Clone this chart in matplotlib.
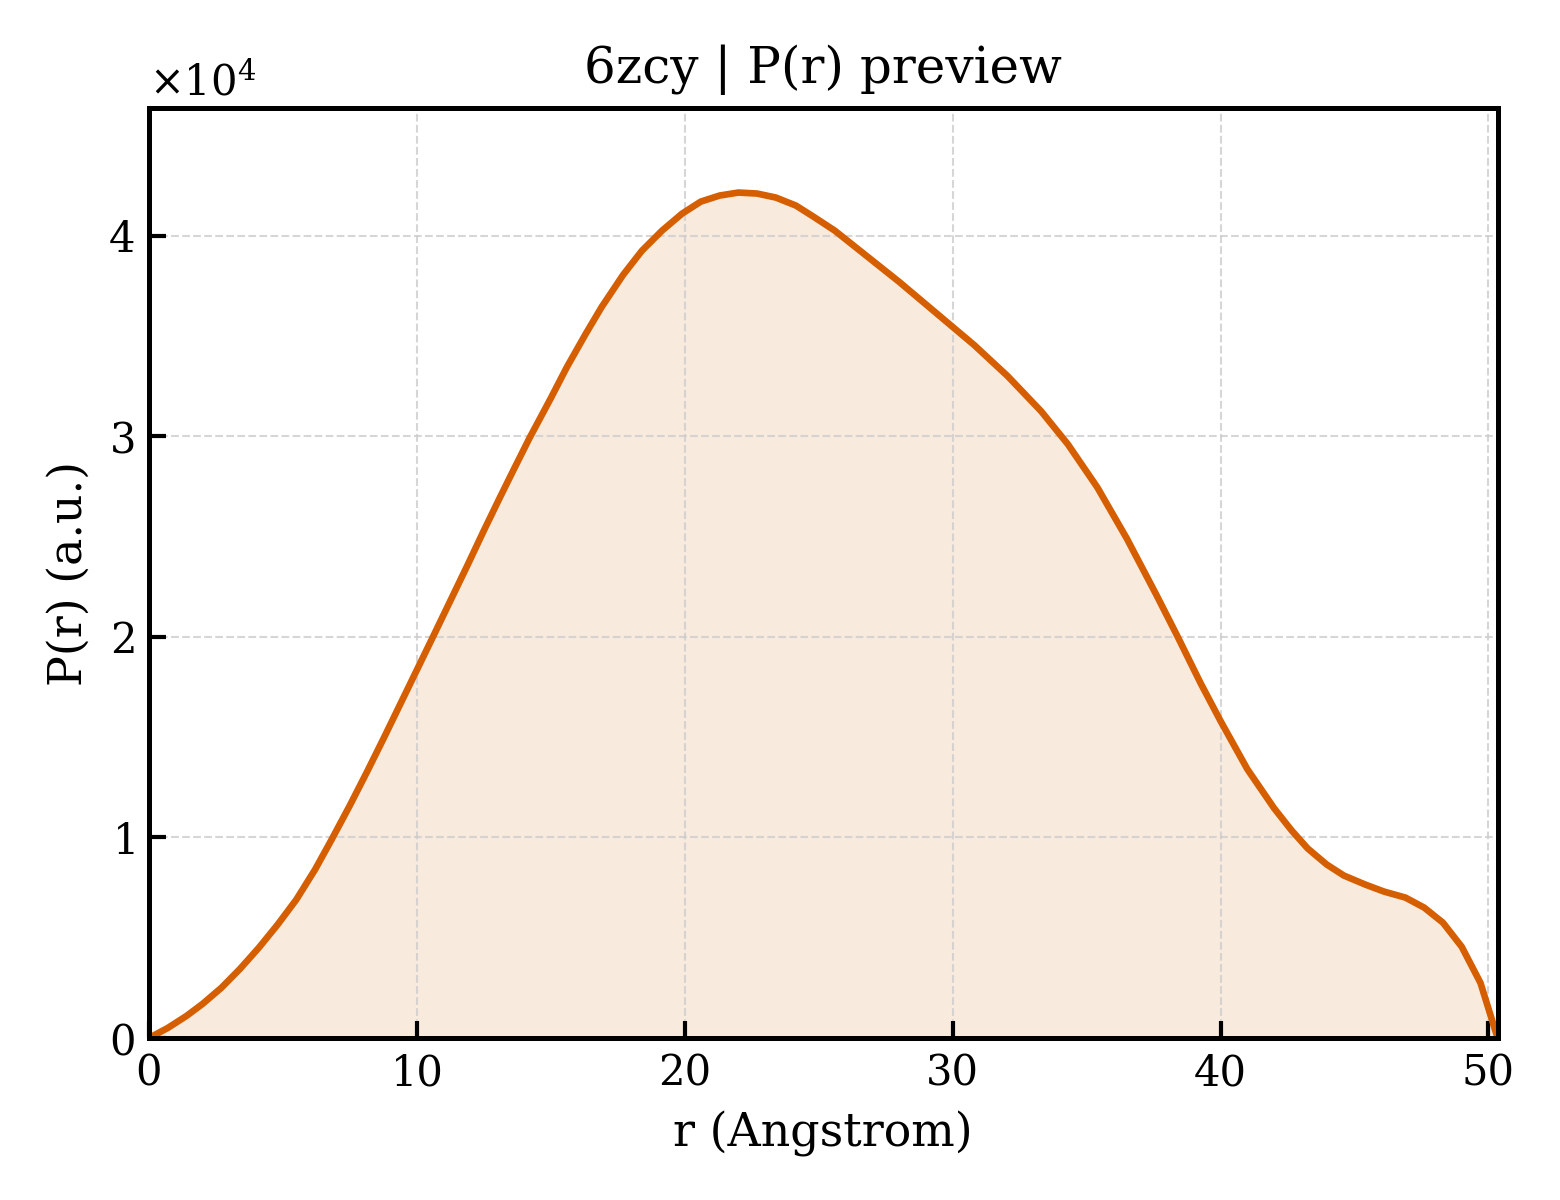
import matplotlib
matplotlib.use("Agg")
import matplotlib.pyplot as plt
import numpy as np

# P(r) (r in Angstrom, P in units of 1e4)
r_vals = [0, 0.7, 1.4, 2.0, 2.7, 3.4, 4.1, 4.8, 5.5, 6.2, 6.8, 7.5, 8.15, 8.8,
          9.4, 10.0, 10.6, 11.25, 11.9, 12.5, 13.1, 13.6, 14.2, 15.0, 15.6, 16.3,
          16.9, 17.7, 18.4, 19.15, 19.9, 20.6, 21.3, 22.0, 22.7, 23.4, 24.15, 24.8,
          25.6, 26.4, 27.2, 28.0, 28.8, 29.6, 30.8, 32.05, 33.3, 34.3, 35.4, 36.5,
          37.6, 38.4, 39.25, 40.0, 41.0, 42.0, 42.65, 43.25, 43.96, 44.6, 45.4,
          46.1, 46.9, 47.6, 48.3, 49.0, 49.7, 50.34]
p_vals = [0, 0.05, 0.11, 0.17, 0.25, 0.345, 0.45, 0.565, 0.69, 0.84, 0.985, 1.16,
          1.33, 1.505, 1.67, 1.835, 2.0, 2.18, 2.36, 2.53, 2.695, 2.83, 2.99, 3.19,
          3.345, 3.51, 3.645, 3.805, 3.925, 4.025, 4.11, 4.17, 4.20, 4.215, 4.21,
          4.19, 4.15, 4.095, 4.025, 3.94, 3.855, 3.77, 3.68, 3.59, 3.455, 3.30,
          3.125, 2.96, 2.745, 2.49, 2.21, 2.0, 1.77, 1.58, 1.34, 1.145, 1.035, 0.945,
          0.865, 0.81, 0.765, 0.73, 0.70, 0.65, 0.575, 0.455, 0.275, 0.0]
pdb_id = "6zcy"

r = np.array(r_vals)
p = np.array(p_vals) * 1e4

plt.rcParams['font.family'] = ['DejaVu Serif']
plt.rcParams['mathtext.fontset'] = 'dejavuserif'

fig = plt.figure(figsize=(5.2, 4), dpi=300)
ax = fig.add_axes([0.0955, 0.135, 0.8645, 0.775])

color = '#D55E00'
ax.fill_between(r, p, 0, color=color, alpha=0.13, linewidth=0)
ax.plot(r, p, color=color, lw=1.6)

ax.set_xlim(0, r.max())
ax.set_ylim(0, p.max() * 1.1)

ax.grid(True, linestyle='--', color='#cccccc', linewidth=0.5, alpha=0.8)
ax.tick_params(direction='in', length=4, width=1, labelsize=10)
for s in ax.spines.values():
    s.set_linewidth(1.2)

ax.ticklabel_format(style='sci', axis='y', scilimits=(0, 0), useMathText=True)
ax.yaxis.get_offset_text().set_fontsize(10)

ax.set_xlabel('r (Angstrom)', fontsize=11)
ax.set_ylabel('P(r) (a.u.)', fontsize=11)
ax.set_title(f'{pdb_id} | P(r) preview', fontsize=12)

fig.savefig('out.png', dpi=300)
